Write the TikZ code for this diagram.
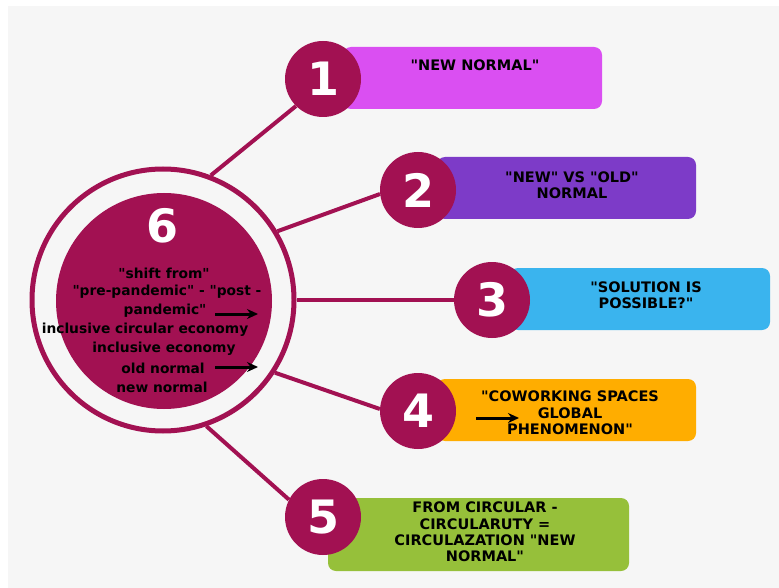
\documentclass[tikz,border=0pt]{standalone}
\usepackage{fontspec}
\newfontfamily\dvfont{DejaVu Sans}
\usetikzlibrary{arrows.meta}
\definecolor{bgray}{HTML}{F6F6F6}
\definecolor{plum}{HTML}{A21152}
\definecolor{cone}{HTML}{DA4FF2}
\definecolor{ctwo}{HTML}{7D3BC8}
\definecolor{cthree}{HTML}{3AB4EE}
\definecolor{cfour}{HTML}{FFAD00}
\definecolor{cfive}{HTML}{96C03A}
\tikzset{
  numcirc/.style={circle, fill=plum, minimum size=76pt, inner sep=0pt, text=white,
    font=\dvfont\bfseries\fontsize{46}{46}\selectfont},
  topicbox/.style={rounded corners=8pt},
  boxtext/.style={align=center, inner sep=0pt, font=\dvfont\bfseries\fontsize{14.5}{16.3}\selectfont},
  ctext/.style={inner sep=0pt, font=\dvfont\bfseries\fontsize{13.8}{16}\selectfont},
  link/.style={draw=plum, line width=4pt},
  blackarrow/.style={line width=3pt, -{Stealth[length=11pt,width=10pt]}}
}
\begin{document}
\begin{tikzpicture}[x=1pt,y=-1pt]
\useasboundingbox (0,0) rectangle (779,588);
\fill[white] (0,0) rectangle (779,588);
\fill[bgray] (8,6) rectangle (779,588);
% boxes
\fill[cone,topicbox] (343,47) rectangle (602,109);
\fill[ctwo,topicbox] (437,157) rectangle (696,219);
\fill[cthree,topicbox] (510,268) rectangle (770,330);
\fill[cfour,topicbox] (437,379) rectangle (696,441);
\fill[cfive,topicbox] (328,498) rectangle (629,571);
% central ring and disc
\node[circle, draw=plum, line width=5pt, minimum size=262pt, inner sep=0pt] (ring) at (163,300) {};
\node[circle, fill=plum, minimum size=216pt, inner sep=0pt] (disc) at (164,301) {};
% number circles
\node[numcirc] (n1) at (323,79) {1};
\node[numcirc] (n2) at (418,190) {2};
\node[numcirc] (n3) at (492,300) {3};
\node[numcirc] (n4) at (418,411) {4};
\node[numcirc] (n5) at (323,517) {5};
% connectors
\draw[link] (ring.69) -- (n1.225);
\draw[link] (ring.31) -- (n2.186);
\draw[link] (ring.0) -- (n3.180);
\draw[link] (ring.-33) -- (n4.177);
\draw[link] (ring.-71) -- (n5.153);
% central number and text
\node[text=white, inner sep=0pt, font=\dvfont\bfseries\fontsize{46}{46}\selectfont] (n6) at (163,226) {6};
\node[ctext] (t1) at (164,273) {"shift from"};
\node[ctext] (t2) at (167,292) {"pre-pandemic" - "post -};
\node[ctext] (t3) at (165,311) {pandemic"};
\node[ctext] (t4) at (145,330) {inclusive circular economy};
\node[ctext] (t5) at (164,349) {inclusive economy};
\node[ctext] (t6) at (163,368) {old normal};
\node[ctext] (t7) at (162,387) {new normal};
\coordinate (a1s) at (215,314);
\coordinate (a1e) at (258,314);
\coordinate (a2s) at (215,367);
\coordinate (a2e) at (258,367);
\draw[blackarrow] (a1s) -- (a1e);
\draw[blackarrow] (a2s) -- (a2e);
% box texts
\node[boxtext] (b1) at (475,65) {"NEW NORMAL"};
\node[boxtext] (b2) at (572,185) {"NEW" VS "OLD"\\NORMAL};
\node[boxtext] (b3) at (646,295) {"SOLUTION IS\\POSSIBLE?"};
\node[boxtext] (b4) at (570,413) {"COWORKING SPACES\\GLOBAL\\PHENOMENON"};
\coordinate (a3s) at (476,418);
\coordinate (a3e) at (519,418);
\draw[blackarrow] (a3s) -- (a3e);
\node[boxtext] (b5) at (485,532) {FROM CIRCULAR -\\CIRCULARUTY =\\CIRCULAZATION "NEW\\NORMAL"};
\end{tikzpicture}
\end{document}
